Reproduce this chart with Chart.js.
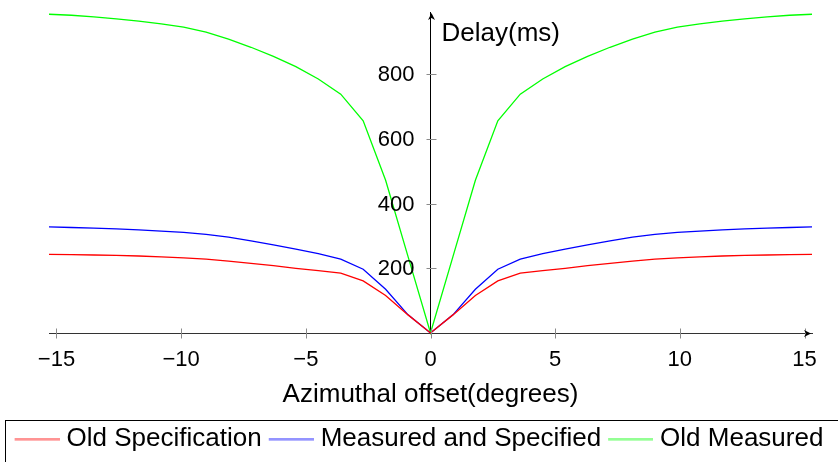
<!DOCTYPE html>
<html>
<head>
<meta charset="utf-8">
<script src="https://cdn.jsdelivr.net/npm/chart.js@4.4.1/dist/chart.umd.min.js"></script>
<style>
  html, body { margin: 0; padding: 0; background: #fff; }
  #wrap { width: 838px; height: 462px; }
</style>
</head>
<body>
<div id="wrap"><canvas id="delayChart"></canvas></div>
<script>
// azimuthal offset (degrees), one sample every 0.9 deg
const azimuth = [-15.3, -14.4, -13.5, -12.6, -11.7, -10.8, -9.9, -9.0, -8.1, -7.2, -6.3, -5.4, -4.5, -3.6, -2.7, -1.8, -0.9,
  0, 0.9, 1.8, 2.7, 3.6, 4.5, 5.4, 6.3, 7.2, 8.1, 9.0, 9.9, 10.8, 11.7, 12.6, 13.5, 14.4, 15.3];

const oldSpecification = [243, 242, 241, 240, 238, 235, 232, 228, 222, 215, 208, 200, 193, 185, 161, 116, 56,
  0, 56, 116, 161, 185, 193, 200, 208, 215, 222, 228, 232, 235, 238, 240, 241, 242, 243];

const measuredSpecified = [328, 326, 324, 322, 319, 315, 311, 305, 296, 285, 272, 259, 245, 228, 197, 135, 56,
  0, 56, 135, 197, 228, 245, 259, 272, 285, 296, 305, 311, 315, 319, 322, 324, 326, 328];

const oldMeasured = [985, 982, 977, 971, 964, 955, 945, 930, 908, 883, 855, 823, 785, 738, 656, 472, 236,
  0, 236, 472, 656, 738, 785, 823, 855, 883, 908, 930, 945, 955, 964, 971, 977, 982, 985];

const seriesNames = ['Old Specification', 'Measured and Specified', 'Old Measured'];
const xTicks = [-15, -10, -5, 0, 5, 10, 15];
const yTicks = [200, 400, 600, 800];

const FONT = "'Liberation Sans', Arial, sans-serif";

// little line sample for the legend (line sits at the right of the image)
function legendLine(color) {
  const c = document.createElement('canvas');
  c.width = 51;
  c.height = 3;
  const g = c.getContext('2d');
  g.strokeStyle = color;
  g.lineWidth = 2;
  g.beginPath();
  g.moveTo(6, 1.5);
  g.lineTo(51, 1.5);
  g.stroke();
  return c;
}

const toPoints = vals => azimuth.map((x, i) => ({ x: x, y: vals[i] }));

const axisDeco = {
  id: 'axisDeco',
  afterDraw(chart) {
    const ctx = chart.ctx;
    const xs = chart.scales.x, ys = chart.scales.y;
    const ox = Math.round(xs.getPixelForValue(0)) + 0.5;
    const oy = Math.round(ys.getPixelForValue(0)) + 0.5;
    ctx.save();
    // tick marks crossing the axes
    ctx.strokeStyle = '#8a8a8a';
    ctx.lineWidth = 1;
    ctx.beginPath();
    xs.ticks.forEach(t => {
      const px = Math.round(xs.getPixelForValue(t.value)) + 0.5;
      ctx.moveTo(px, oy - 5);
      ctx.lineTo(px, oy + 5);
    });
    ys.ticks.forEach(t => {
      const py = Math.round(ys.getPixelForValue(t.value)) + 0.5;
      ctx.moveTo(ox - 5, py);
      ctx.lineTo(ox + 5, py);
    });
    ctx.stroke();

    // y tick labels, left of the centred axis
    ctx.font = '22px ' + FONT;
    ctx.fillStyle = '#000';
    ctx.textAlign = 'right';
    ctx.textBaseline = 'middle';
    ys.ticks.forEach(t => {
      ctx.fillText(String(t.value), ox - 17, ys.getPixelForValue(t.value) + 1);
    });

    // arrow heads
    const tipX = xs.right - 1;
    ctx.beginPath();
    ctx.moveTo(tipX, oy);
    ctx.lineTo(tipX - 7, oy - 3.5);
    ctx.lineTo(tipX - 5, oy);
    ctx.lineTo(tipX - 7, oy + 3.5);
    ctx.closePath();
    ctx.fill();
    const tipY = ys.top + 1;
    ctx.beginPath();
    ctx.moveTo(ox, tipY);
    ctx.lineTo(ox - 3.5, tipY + 7);
    ctx.lineTo(ox, tipY + 5);
    ctx.lineTo(ox + 3.5, tipY + 7);
    ctx.closePath();
    ctx.fill();

    // y axis label
    ctx.font = '26px ' + FONT;
    ctx.textAlign = 'left';
    ctx.fillText('Delay(ms)', ox + 10, 34);

    // legend frame
    const lg = chart.legend;
    ctx.strokeStyle = '#000';
    ctx.strokeRect(5.5, Math.round(lg.top) + 1.5, 900, 100);
    ctx.restore();
  }
};

const ctx = document.getElementById('delayChart').getContext('2d');
new Chart(ctx, {
  type: 'line',
  data: {
    datasets: [
      { label: seriesNames[0], data: toPoints(oldSpecification), borderColor: '#ff0000', pointStyle: legendLine('#ff7070') },
      { label: seriesNames[1], data: toPoints(measuredSpecified), borderColor: '#0000ff', pointStyle: legendLine('#7070ff') },
      { label: seriesNames[2], data: toPoints(oldMeasured), borderColor: '#00ff00', pointStyle: legendLine('#70ff70') }
    ]
  },
  options: {
    responsive: true,
    maintainAspectRatio: false,
    animation: false,
    datasets: {
      line: { borderWidth: 1.3, pointRadius: 0, tension: 0, fill: false, clip: false }
    },
    layout: { padding: { top: 12, left: 0, right: 0, bottom: 0 } },
    plugins: {
      tooltip: { enabled: false },
      legend: {
        position: 'bottom',
        labels: {
          usePointStyle: true,
          pointStyleWidth: 39,
          padding: 7,
          color: '#000',
          font: { family: FONT, size: 26 }
        }
      }
    },
    scales: {
      x: {
        type: 'linear',
        position: 'bottom',
        min: -15.3,
        max: 15.3,
        afterBuildTicks: s => { s.ticks = xTicks.map(v => ({ value: v })); },
        afterFit: s => { s.height = 86; s.paddingLeft = 49; s.paddingRight = 26; },
        grid: { display: false, drawTicks: false },
        border: { display: true, color: '#333', width: 1 },
        ticks: {
          padding: 14,
          color: '#000',
          font: { family: FONT, size: 22 },
          maxRotation: 0,
          callback: v => String(v).replace('-', '\u2212')
        },
        title: {
          display: true,
          text: 'Azimuthal offset(degrees)',
          color: '#000',
          font: { family: FONT, size: 26 },
          padding: { top: 4, bottom: 9 }
        }
      },
      y: {
        type: 'linear',
        position: { x: 0 },
        min: 0,
        max: 992,
        afterBuildTicks: s => { s.ticks = yTicks.map(v => ({ value: v })); },
        afterFit: s => { s.paddingTop = 0; s.paddingBottom = 0; },
        grid: { display: false, drawTicks: false },
        border: { display: true, color: '#000', width: 1 },
        ticks: { display: false }
      }
    }
  },
  plugins: [axisDeco]
});
</script>
</body>
</html>
